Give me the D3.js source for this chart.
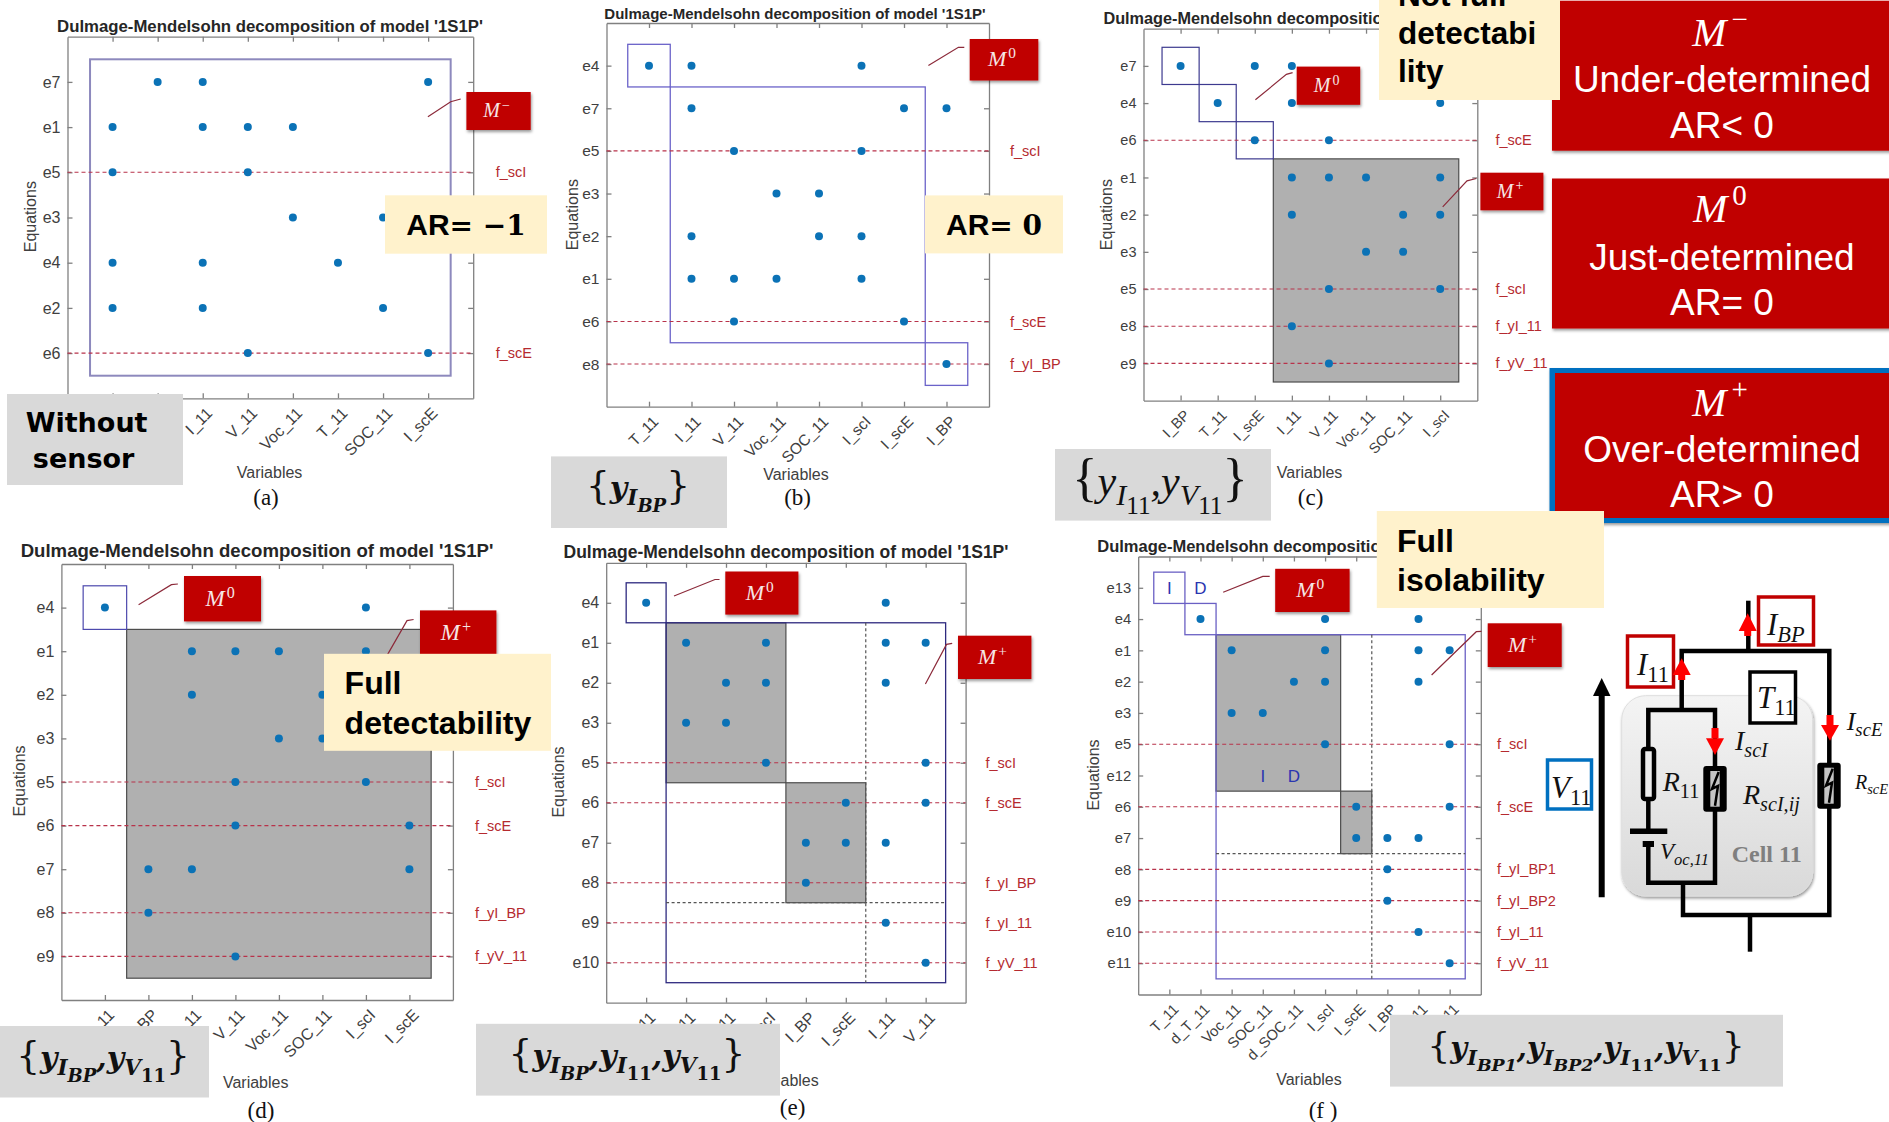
<!DOCTYPE html>
<html>
<head>
	<title></title>
	<script src="https://d3js.org/d3.v7.min.js"></script>
	<style>
		body { margin: 0; background: #fff; }
		svg { display: block; }
		text { font-family: "Liberation Sans", Arial, sans-serif; }
	</style>
</head>
<body>

<script>

var width = 1889
var height = 1122

var chartTitle = "Dulmage-Mendelsohn decomposition of model '1S1P'"

// panel a
var varsA = ['I_scI', 'I_BP', 'I_11', 'V_11', 'Voc_11', 'T_11', 'SOC_11', 'I_scE']
var eqsA = ['e7', 'e1', 'e5', 'e3', 'e4', 'e2', 'e6']
var dotsA = [[1, 2, 7], [0, 2, 3, 4], [0, 3], [4, 6], [0, 2, 5], [0, 2, 6], [3, 7]]
var faultsA = ['', '', 'f_scI', '', '', '', 'f_scE']
var blocksA = [['box', 0, 7, 0, 6]]

// panel b
var varsB = ['T_11', 'I_11', 'V_11', 'Voc_11', 'SOC_11', 'I_scI', 'I_scE', 'I_BP']
var eqsB = ['e4', 'e7', 'e5', 'e3', 'e2', 'e1', 'e6', 'e8']
var dotsB = [[0, 1, 5], [1, 6, 7], [2, 5], [3, 4], [1, 4, 5], [1, 2, 3, 5], [2, 6], [7]]
var faultsB = ['', '', 'f_scI', '', '', '', 'f_scE', 'f_yI_BP']
var blocksB = [['box', 0, 0, 0, 0], ['box', 1, 6, 1, 6], ['box', 7, 7, 7, 7]]

// panel c
var varsC = ['I_BP', 'T_11', 'I_scE', 'I_11', 'V_11', 'Voc_11', 'SOC_11', 'I_scI']
var eqsC = ['e7', 'e4', 'e6', 'e1', 'e2', 'e3', 'e5', 'e8', 'e9']
var dotsC = [[0, 2, 3], [1, 3, 7], [2, 4], [3, 4, 5, 7], [3, 6, 7], [5, 6], [4, 7], [3], [4]]
var faultsC = ['', '', 'f_scE', '', '', '', 'f_scI', 'f_yI_11', 'f_yV_11']
var blocksC = [['box', 0, 0, 0, 0], ['box', 1, 1, 1, 1], ['box', 2, 2, 2, 2], ['gray', 3, 7, 3, 8]]

// panel d
var varsD = ['T_11', 'I_BP', 'I_11', 'V_11', 'Voc_11', 'SOC_11', 'I_scI', 'I_scE']
var eqsD = ['e4', 'e1', 'e2', 'e3', 'e5', 'e6', 'e7', 'e8', 'e9']
var dotsD = [[0, 6], [2, 3, 4, 6], [2, 5, 6], [4, 5], [3, 6], [3, 7], [1, 2, 7], [1], [3]]
var faultsD = ['', '', '', '', 'f_scI', 'f_scE', '', 'f_yI_BP', 'f_yV_11']
var blocksD = [['box', 0, 0, 0, 0], ['gray', 1, 7, 1, 8]]

// panel e
var varsE = ['T_11', 'Voc_11', 'SOC_11', 'I_scI', 'I_BP', 'I_scE', 'I_11', 'V_11']
var eqsE = ['e4', 'e1', 'e2', 'e3', 'e5', 'e6', 'e7', 'e8', 'e9', 'e10']
var dotsE = [[0, 6], [1, 3, 6, 7], [2, 3, 6], [1, 2], [3, 7], [5, 7], [4, 5, 6], [4], [6], [7]]
var faultsE = ['', '', '', '', 'f_scI', 'f_scE', '', 'f_yI_BP', 'f_yI_11', 'f_yV_11']
var blocksE = [['box', 0, 0, 0, 0], ['gray', 1, 3, 1, 4], ['gray', 4, 5, 5, 7], ['box', 1, 7, 1, 9], ['dashV', 5, 5, 1, 9], ['dashH', 1, 7, 7, 7]]

// panel f
var varsF = ['T_11', 'd_T_11', 'Voc_11', 'SOC_11', 'd_SOC_11', 'I_scI', 'I_scE', 'I_BP', 'I_11', 'V_11']
var eqsF = ['e13', 'e4', 'e1', 'e2', 'e3', 'e5', 'e12', 'e6', 'e7', 'e8', 'e9', 'e10', 'e11']
var dotsF = [[], [1, 5, 8], [2, 5, 8, 9], [4, 5, 8], [2, 3], [5, 9], [], [6, 9], [6, 7, 8], [7], [7], [8], [9]]
var faultsF = ['', '', '', '', '', 'f_scI', '', 'f_scE', '', 'f_yI_BP1', 'f_yI_BP2', 'f_yI_11', 'f_yV_11']
var blocksF = [['box', 0, 0, 0, 0], ['box', 1, 1, 1, 1], ['gray', 2, 5, 2, 6], ['gray', 6, 6, 7, 8], ['box', 2, 9, 2, 12], ['dashV', 6, 6, 2, 12], ['dashH', 2, 9, 8, 8]]
var letterMarksF = [['I', 0, 0], ['D', 1, 0], ['I', 3, 6], ['D', 4, 6]]

// legend and notes
var legendSup = ['\u2212', '0', '+']
var legendNames = ['Under-determined', 'Just-determined', 'Over-determined']
var legendAR = ['AR< 0', 'AR= 0', 'AR> 0']

var setB = [['{', 0], ['y', 0], ['I', 1], ['BP', 2], ['}', 0]]
var setC = [['{', 0], ['y', 0], ['I', 1], ['11', 2], [',', 0], ['y', 0], ['V', 1], ['11', 2], ['}', 0]]
var setD = [['{', 0], ['y', 0], ['I', 1], ['BP', 2], [',', 0], ['y', 0], ['V', 1], ['11', 2], ['}', 0]]
var setE = [['{', 0], ['y', 0], ['I', 1], ['BP', 2], [',', 0], ['y', 0], ['I', 1], ['11', 2], [',', 0], ['y', 0], ['V', 1], ['11', 2], ['}', 0]]
var setF = [['{', 0], ['y', 0], ['I', 1], ['BP1', 2], [',', 0], ['y', 0], ['I', 1], ['BP2', 2], [',', 0], ['y', 0], ['I', 1], ['11', 2], [',', 0], ['y', 0], ['V', 1], ['11', 2], ['}', 0]]

var panels = [
	{ vars: varsA, eqs: eqsA, dots: dotsA, faults: faultsA, blocks: blocksA, cap: '(a)',
		left: 67.5, right: 473.2, top: 36.7, bottom: 398.3, font: 16, faultX: 495.7,
		title: [270, 25.7, 16.75], xlab: [269.6, 472], capPos: [266, 497.7], ylab: [30, 216.7], boxColor: '#8d89bd', boxW: 2,
		callouts: [{ box: [466.4, 92, 64.3, 38], sup: '\u2212', size: 20, leader: [[427.9, 116.7], [450.7, 101.7], [460.7, 99]] }] },
	{ vars: varsB, eqs: eqsB, dots: dotsB, faults: faultsB, blocks: blocksB, cap: '(b)',
		left: 606.5, right: 989, top: 23, bottom: 406.7, font: 15.5, faultX: 1010,
		title: [795, 13.5, 15], xlab: [796, 474], capPos: [797.6, 497.6], ylab: [572.7, 214.7], boxColor: '#6b63c9', boxW: 1.3,
		callouts: [{ box: [969.7, 39, 68.6, 41.5], sup: '0', size: 22, leader: [[928.4, 65.6], [958.4, 47.3], [964.3, 47.3]] }] },
	{ vars: varsC, eqs: eqsC, dots: dotsC, faults: faultsC, blocks: blocksC, cap: '(c)',
		left: 1143.5, right: 1477.3, top: 28.7, bottom: 400.6, font: 14.5, faultX: 1495.4,
		title: [1310, 18.5, 16.25], xlab: [1309.6, 472.3], capPos: [1310.6, 497.6], ylab: [1106.8, 214.7], boxColor: '#3d3a8f', boxW: 1.2,
		callouts: [
			{ box: [1296.7, 66.6, 63.5, 38.2], sup: '0', size: 20, leader: [[1255.4, 99.7], [1286.4, 74.4], [1292.6, 72.7]] },
			{ box: [1480.4, 172.7, 63, 37.6], sup: '+', size: 20, leader: [[1442.7, 206.9], [1467, 180.9], [1476.3, 178.5]] }] },
	{ vars: varsD, eqs: eqsD, dots: dotsD, faults: faultsD, blocks: blocksD, cap: '(d)',
		left: 61.4, right: 452.9, top: 564, bottom: 1000, font: 16, faultX: 475,
		title: [257, 550.8, 18.6], xlab: [255.7, 1082.4], capPos: [261, 1110], ylab: [19.6, 781], boxColor: '#4d49ad', boxW: 1.2,
		callouts: [
			{ box: [184, 576, 77, 45.4], sup: '0', size: 23, leader: [[138.6, 604.8], [171.4, 584.7], [177.9, 584]] },
			{ box: [420, 610.4, 76.4, 45.6], sup: '+', size: 23, leader: [[387.5, 654.6], [407, 620.6], [413.6, 619.5]] }] },
	{ vars: varsE, eqs: eqsE, dots: dotsE, faults: faultsE, blocks: blocksE, cap: '(e)',
		left: 606.2, right: 965.6, top: 562.8, bottom: 1002.7, font: 16, faultX: 985.5,
		title: [786, 551.5, 17.5], xlab: [786, 1080.5], capPos: [792.6, 1107], ylab: [558.8, 782], boxColor: '#2e2a7f', boxW: 1.3,
		callouts: [
			{ box: [725.3, 571.5, 73.1, 43.1], sup: '0', size: 22, leader: [[674, 596], [715, 579.5], [719.5, 579.5]] },
			{ box: [958, 635.7, 73.4, 43.3], sup: '+', size: 22, leader: [[925.4, 684], [946.5, 644.4], [952.2, 643.3]] }] },
	{ vars: varsF, eqs: eqsF, dots: dotsF, faults: faultsF, blocks: blocksF, cap: '(f )', letters: letterMarksF,
		left: 1138.2, right: 1480.8, top: 556.5, bottom: 994.5, font: 14.8, faultX: 1497,
		title: [1307, 546, 16.5], xlab: [1309, 1079.7], capPos: [1323, 1110], ylab: [1093.4, 775], boxColor: '#6a60c4', boxW: 1.3,
		callouts: [
			{ box: [1275.2, 568.8, 74.4, 43.2], sup: '0', size: 22, leader: [[1223.2, 592.2], [1262.8, 576.4], [1269.7, 576.4]] },
			{ box: [1487.7, 623.3, 74, 43.7], sup: '+', size: 22, leader: [[1431.6, 675], [1476.3, 631.7], [1481.5, 631.3]] }] }
]

var svg = d3.select('body').append('svg')
	.attr('width', width)
	.attr('height', height)

var defs = svg.append('defs')
defs.append('filter').attr('id', 'shadow')
	.attr('x', '-10%').attr('y', '-10%').attr('width', '125%').attr('height', '130%')
	.append('feDropShadow')
	.attr('dx', 1).attr('dy', 2).attr('stdDeviation', 1.5)
	.attr('flood-color', '#000').attr('flood-opacity', 0.4)
var cellGrad = defs.append('linearGradient').attr('id', 'cellGrad')
	.attr('x1', 0).attr('y1', 0).attr('x2', 0).attr('y2', 1)
cellGrad.append('stop').attr('offset', 0).attr('stop-color', '#f4f4f4')
cellGrad.append('stop').attr('offset', 1).attr('stop-color', '#d9d9d9')

var lineGen = d3.line()

panels.forEach(drawPanel)
drawCircuit()
drawLegend()
drawNotes()

function drawPanel(p) {
	var g = svg.append('g')
	var x = d3.scaleLinear().domain([-1, p.vars.length]).range([p.left, p.right])
	var y = d3.scaleLinear().domain([-1, p.eqs.length]).range([p.top, p.bottom])

	// blocks, gray ones go under the outlines
	p.blocks.filter(function(b) { return b[0] == 'gray' }).forEach(function(b) {
		g.append('rect')
			.attr('x', x(b[1] - .5))
			.attr('y', y(b[3] - .5))
			.attr('width', x(b[2] + .5) - x(b[1] - .5))
			.attr('height', y(b[4] + .5) - y(b[3] - .5))
			.attr('fill', '#b0b0b0')
			.attr('stroke', '#4d4d4d')
			.attr('stroke-width', 1.2)
	})
	p.blocks.filter(function(b) { return b[0] == 'box' }).forEach(function(b) {
		g.append('rect')
			.attr('x', x(b[1] - .5))
			.attr('y', y(b[3] - .5))
			.attr('width', x(b[2] + .5) - x(b[1] - .5))
			.attr('height', y(b[4] + .5) - y(b[3] - .5))
			.attr('fill', 'none')
			.attr('stroke', p.boxColor)
			.attr('stroke-width', p.boxW)
	})
	p.blocks.filter(function(b) { return b[0] == 'dashV' || b[0] == 'dashH' }).forEach(function(b) {
		var vert = b[0] == 'dashV'
		g.append('line')
			.attr('x1', vert ? x(b[1] + .5) : x(b[1] - .5))
			.attr('x2', x(b[2] + .5))
			.attr('y1', vert ? y(b[3] - .5) : y(b[3] + .5))
			.attr('y2', y(b[4] + .5))
			.attr('stroke', '#555')
			.attr('stroke-width', 1.2)
			.attr('stroke-dasharray', '3 2.5')
	})

	// axes, matlab box with ticks inside on all sides
	var axB = d3.axisBottom(x).tickValues(d3.range(p.vars.length))
		.tickFormat(function(i) { return p.vars[i] }).tickSize(-5).tickSizeOuter(0)
	var axT = d3.axisTop(x).tickValues(d3.range(p.vars.length))
		.tickFormat('').tickSize(-5).tickSizeOuter(0)
	var axL = d3.axisLeft(y).tickValues(d3.range(p.eqs.length))
		.tickFormat(function(i) { return p.eqs[i] }).tickSize(-5).tickSizeOuter(0)
	var axR = d3.axisRight(y).tickValues(d3.range(p.eqs.length))
		.tickFormat('').tickSize(-5).tickSizeOuter(0)

	var gB = g.append('g').attr('transform', 'translate(0,' + p.bottom + ')').call(axB)
	g.append('g').attr('transform', 'translate(0,' + p.top + ')').call(axT)
	var gL = g.append('g').attr('transform', 'translate(' + p.left + ',0)').call(axL)
	g.append('g').attr('transform', 'translate(' + p.right + ',0)').call(axR)

	g.selectAll('.domain, .tick line').attr('stroke', '#808080').attr('stroke-width', 1.3)

	gB.selectAll('text')
		.attr('x', 0).attr('y', 0).attr('dy', '.35em')
		.attr('text-anchor', 'end')
		.attr('transform', 'translate(6,12) rotate(-45)')
		.attr('fill', '#404040')
		.style('font-size', p.font + 'px')
	gL.selectAll('text')
		.attr('x', -7)
		.attr('fill', '#404040')
		.style('font-size', p.font + 'px')

	// fault rows
	p.faults.forEach(function(f, i) {
		if (!f) return
		g.append('line')
			.attr('x1', p.left).attr('x2', p.right)
			.attr('y1', y(i)).attr('y2', y(i))
			.attr('stroke', '#b8324a')
			.attr('stroke-width', 1.1)
			.attr('stroke-dasharray', '4 3')
		g.append('text')
			.attr('x', p.faultX).attr('y', y(i))
			.attr('dy', '.35em')
			.attr('fill', '#b52a2f')
			.style('font-size', '14.5px')
			.text(f)
	})

	// dots
	var pts = []
	p.dots.forEach(function(row, i) {
		row.forEach(function(v) { pts.push([v, i]) })
	})
	g.selectAll('circle.dot').data(pts).enter().append('circle')
		.attr('class', 'dot')
		.attr('cx', function(d) { return x(d[0]) })
		.attr('cy', function(d) { return y(d[1]) })
		.attr('r', 4)
		.attr('fill', '#0b72b6')

	if (p.letters) {
		p.letters.forEach(function(m) {
			g.append('text')
				.attr('x', x(m[1])).attr('y', y(m[2]))
				.attr('dy', '.36em')
				.attr('text-anchor', 'middle')
				.attr('fill', '#2a35b0')
				.style('font-size', '17px')
				.text(m[0])
		})
	}

	// labels
	g.append('text')
		.attr('x', p.title[0]).attr('y', p.title[1])
		.attr('dy', '.35em')
		.attr('text-anchor', 'middle')
		.attr('font-weight', 'bold')
		.attr('fill', '#262626')
		.style('font-size', p.title[2] + 'px')
		.text(chartTitle)
	g.append('text')
		.attr('x', p.xlab[0]).attr('y', p.xlab[1])
		.attr('dy', '.35em')
		.attr('text-anchor', 'middle')
		.attr('fill', '#404040')
		.style('font-size', '16px')
		.text('Variables')
	g.append('text')
		.attr('transform', 'translate(' + p.ylab[0] + ',' + p.ylab[1] + ') rotate(-90)')
		.attr('dy', '.35em')
		.attr('text-anchor', 'middle')
		.attr('fill', '#404040')
		.style('font-size', '16px')
		.text('Equations')
	g.append('text')
		.attr('x', p.capPos[0]).attr('y', p.capPos[1])
		.attr('dy', '.33em')
		.attr('text-anchor', 'middle')
		.attr('fill', '#111')
		.style('font-family', '"Liberation Serif", serif')
		.style('font-size', '23px')
		.text(p.cap)

	// red callouts
	p.callouts.forEach(function(c) {
		g.append('path')
			.attr('d', lineGen(c.leader))
			.attr('fill', 'none')
			.attr('stroke', '#8c2a3a')
			.attr('stroke-width', 1.2)
		g.append('rect')
			.attr('x', c.box[0]).attr('y', c.box[1])
			.attr('width', c.box[2]).attr('height', c.box[3])
			.attr('fill', '#c00000')
			.attr('filter', 'url(#shadow)')
		var t = g.append('text')
			.attr('x', c.box[0] + c.box[2] * .47).attr('y', c.box[1] + c.box[3] * .66)
			.attr('text-anchor', 'middle')
			.attr('fill', '#f6e6e6')
			.style('font-family', '"Liberation Serif", serif')
			.style('font-style', 'italic')
			.style('font-size', c.size + 'px')
		t.append('tspan').text('M')
		t.append('tspan').attr('dx', 2).attr('dy', -c.size * .36).style('font-size', c.size * .7 + 'px').style('font-style', 'normal').text(c.sup)
	})
}

function drawLegend() {
	var boxes = [[1552, .7, 150], [1552, 178.5, 150], [1555, 373, 145]]
	var rows = [[32, 79.4, 125], [208, 257, 302], [402, 448.6, 494]]
	// blue frame of the active class
	svg.append('rect')
		.attr('x', 1549.5).attr('y', 368)
		.attr('width', 345).attr('height', 155)
		.attr('fill', '#0070c0')
		.attr('filter', 'url(#shadow)')
	legendNames.forEach(function(name, i) {
		svg.append('rect')
			.attr('x', boxes[i][0]).attr('y', boxes[i][1])
			.attr('width', width - boxes[i][0] + 5).attr('height', boxes[i][2])
			.attr('fill', '#c00000')
			.attr('filter', i < 2 ? 'url(#shadow)' : null)
		var m = svg.append('text')
			.attr('x', 1720).attr('y', rows[i][0] + 14)
			.attr('text-anchor', 'middle')
			.attr('fill', '#fff')
			.style('font-family', '"Liberation Serif", serif')
			.style('font-size', '41px')
		m.append('tspan').style('font-style', 'italic').text('M')
		m.append('tspan').attr('dx', 5).attr('dy', -17).style('font-size', '29px').text(legendSup[i])
		svg.append('text')
			.attr('x', 1722).attr('y', rows[i][1])
			.attr('dy', '.35em')
			.attr('text-anchor', 'middle')
			.attr('fill', '#fff')
			.style('font-size', '37px')
			.text(name)
		svg.append('text')
			.attr('x', 1722).attr('y', rows[i][2])
			.attr('dy', '.35em')
			.attr('text-anchor', 'middle')
			.attr('fill', '#fff')
			.style('font-size', '37px')
			.text(legendAR[i])
	})
}

// levels: 0 normal, 1 subscript, 2 sub-subscript
function mathText(parent, x, y, size, parts, family, weight, anchor) {
	var sizes = [1, .72, .6]
	var drops = [0, .24, .46]
	var t = parent.append('text')
		.attr('x', x).attr('y', y)
		.attr('text-anchor', anchor || 'middle')
		.attr('fill', '#111')
		.style('font-family', family)
		.style('font-weight', weight)
	var prev = 0
	parts.forEach(function(p) {
		var drop = drops[p[1]] * size
		var brace = p[0] == '{' || p[0] == '}'
		t.append('tspan')
			.attr('dy', drop - prev)
			.style('font-style', brace || /^[0-9]+$/.test(p[0]) ? 'normal' : 'italic')
			.style('font-weight', brace ? 'normal' : weight)
			.style('font-size', (brace ? size * 1.25 : size * sizes[p[1]]) + 'px')
			.text(p[0])
		prev = drop
	})
	return t
}

function noteBox(x, y, w, h, color) {
	svg.append('rect')
		.attr('x', x).attr('y', y)
		.attr('width', w).attr('height', h)
		.attr('fill', color)
}

function noteLine(x, y, txt, size, anchor, family) {
	svg.append('text')
		.attr('x', x).attr('y', y)
		.attr('dy', '.35em')
		.attr('text-anchor', anchor)
		.attr('font-weight', 'bold')
		.attr('fill', '#000')
		.style('font-family', family || null)
		.style('font-size', size + 'px')
		.text(txt)
}

function arNote(x, y, w, h, rest) {
	noteBox(x, y, w, h, '#fff2cc')
	var t = svg.append('text')
		.attr('x', x + w / 2).attr('y', y + h / 2)
		.attr('dy', '.35em')
		.attr('text-anchor', 'middle')
		.attr('font-weight', 'bold')
		.attr('fill', '#000')
		.style('font-size', '30px')
	t.append('tspan').text('AR')
	t.append('tspan').style('font-family', '"DejaVu Serif", serif').style('font-size', '28px').text(rest)
}

function drawNotes() {
	var yellow = '#fff2cc'
	var gray = '#d9d9d9'
	var serifBold = '"DejaVu Serif", serif'

	arNote(385, 195.3, 162, 58.4, '= \u22121')
	arNote(925, 195.4, 138, 58, '= 0')

	noteBox(1379, 0, 181, 100, yellow)
	noteLine(1398, -5, 'Not full', 31.5, 'start')
	noteLine(1398, 33, 'detectabi', 31.5, 'start')
	noteLine(1398, 71, 'lity', 31.5, 'start')

	noteBox(324, 653.8, 227, 97, yellow)
	noteLine(344.6, 683, 'Full', 32, 'start')
	noteLine(344.6, 722.6, 'detectability', 32, 'start')

	noteBox(1376.8, 511, 227.2, 97, yellow)
	noteLine(1397, 541, 'Full', 32, 'start')
	noteLine(1397, 579.5, 'isolability', 32, 'start')

	noteBox(7, 394, 176, 91, gray)
	noteLine(86.6, 422.5, 'Without', 27, 'middle', '"DejaVu Sans", sans-serif')
	noteLine(83.6, 459, 'sensor', 27, 'middle', '"DejaVu Sans", sans-serif')

	noteBox(551, 456.4, 176, 71.6, gray)
	mathText(svg, 638, 498, 30, setB, serifBold, 'bold')

	noteBox(1055, 449, 216, 71.6, gray)
	mathText(svg, 1160, 495, 42, setC, '"Liberation Serif", serif', 'normal')

	noteBox(0, 1026, 209, 71.5, gray)
	mathText(svg, 103, 1068, 30, setD, serifBold, 'bold')

	noteBox(476, 1023.8, 304, 71.8, gray)
	mathText(svg, 627, 1066, 30, setE, serifBold, 'bold')

	noteBox(1390, 1014.8, 393, 71.8, gray)
	mathText(svg, 1586, 1058, 29, setF, serifBold, 'bold')
}

function wire(pts, w) {
	return svg.append('path')
		.attr('d', lineGen(pts))
		.attr('fill', 'none')
		.attr('stroke', '#000')
		.attr('stroke-width', w || 4.5)
}

function redArrow(x, tip, base, tail) {
	wire([[x, base], [x, tail]], 7).attr('stroke', '#f00')
	svg.append('path')
		.attr('d', lineGen([[x - 9, base], [x + 9, base], [x, tip]]) + 'Z')
		.attr('fill', '#f00')
}

function scResistor(x, y, w, h) {
	svg.append('rect')
		.attr('x', x).attr('y', y).attr('width', w).attr('height', h)
		.attr('rx', 3).attr('fill', '#000')
	svg.append('rect')
		.attr('x', x + 7).attr('y', y + 5).attr('width', w - 14).attr('height', h - 10)
		.attr('fill', '#c4c4c4')
	svg.append('path')
		.attr('d', lineGen([[x + w - 8, y + 6], [x + w / 2 - 3, y + h / 2], [x + w / 2 + 3, y + h / 2 - 3], [x + w / 2, y + h - 6]]))
		.attr('fill', 'none').attr('stroke', '#000').attr('stroke-width', 2.5)
}

function labelBox(x, y, w, h, color) {
	svg.append('rect')
		.attr('x', x).attr('y', y).attr('width', w).attr('height', h)
		.attr('fill', '#fff').attr('stroke', color).attr('stroke-width', 3.5)
}

function circuitMath(x, y, size, parts) {
	var t = mathText(svg, x, y, size, parts, '"Liberation Serif", serif', 'normal', 'start')
	t.selectAll('tspan').style('font-size', function(d, i) { return (parts[i][1] ? size * .72 : size) + 'px' })
	return t
}

function drawCircuit() {
	svg.append('rect')
		.attr('x', 1621.7).attr('y', 695.7)
		.attr('width', 191).attr('height', 200.3)
		.attr('rx', 24)
		.attr('fill', 'url(#cellGrad)')
		.attr('stroke', '#dedede')
		.attr('filter', 'url(#shadow)')

	// voltage arrow
	wire([[1601.7, 897.3], [1601.7, 692]], 6)
	svg.append('path')
		.attr('d', lineGen([[1593, 696], [1610.5, 696], [1601.7, 678]]) + 'Z')

	// wires
	wire([[1748.3, 600.7], [1748.3, 651]])
	wire([[1681.7, 710], [1681.7, 651], [1829.3, 651], [1829.3, 915], [1683, 915], [1683, 883]])
	wire([[1750, 915], [1750, 951.7]])
	wire([[1648.3, 750], [1648.3, 710], [1715, 710], [1715, 767]])
	wire([[1715, 811], [1715, 882.7], [1648.3, 882.7], [1648.3, 846]])
	wire([[1648.3, 800], [1648.3, 831]])

	// R11 and the cell
	svg.append('rect')
		.attr('x', 1643).attr('y', 749)
		.attr('width', 11).attr('height', 50)
		.attr('rx', 2)
		.attr('fill', '#ececec').attr('stroke', '#000').attr('stroke-width', 4.5)
	svg.append('rect').attr('x', 1630).attr('y', 828.5).attr('width', 37.3).attr('height', 5.5)
	svg.append('rect').attr('x', 1642.7).attr('y', 841).attr('width', 11.3).attr('height', 6)

	scResistor(1703.3, 766, 23.4, 45.7)
	scResistor(1817.3, 762.7, 23.4, 46)

	labelBox(1547.5, 760, 44, 49, '#0070c0')
	labelBox(1627.5, 636, 46, 51, '#c00000')
	labelBox(1758.5, 597, 55, 48, '#c00000')
	labelBox(1750, 672, 45.5, 51, '#000')

	redArrow(1747.7, 613.3, 631, 636)
	redArrow(1681.7, 658.3, 675, 680)
	redArrow(1715, 755, 738.3, 728)
	redArrow(1830, 740.7, 725, 715)

	circuitMath(1551, 798, 31, [['V', 0], ['11', 1]])
	circuitMath(1637, 675, 31, [['I', 0], ['11', 1]])
	circuitMath(1767, 635, 31, [['I', 0], ['BP', 1]])
	circuitMath(1757, 708, 31, [['T', 0], ['11', 1]])
	circuitMath(1735, 750, 28, [['I', 0], ['scI', 1]])
	circuitMath(1662.7, 791, 28, [['R', 0], ['11', 1]])
	circuitMath(1743, 804, 28, [['R', 0], ['scI,ij', 1]])
	circuitMath(1846.7, 730, 26, [['I', 0], ['scE', 1]])
	circuitMath(1855, 789, 20, [['R', 0], ['scE', 1]])
	circuitMath(1660, 859, 23, [['V', 0], ['oc,11', 1]])

	svg.append('text')
		.attr('x', 1731.7).attr('y', 862)
		.attr('fill', '#7f7f7f')
		.attr('font-weight', 'bold')
		.style('font-family', '"Liberation Serif", serif')
		.style('font-size', '24px')
		.text('Cell 11')
}

</script>

</body>
</html>
